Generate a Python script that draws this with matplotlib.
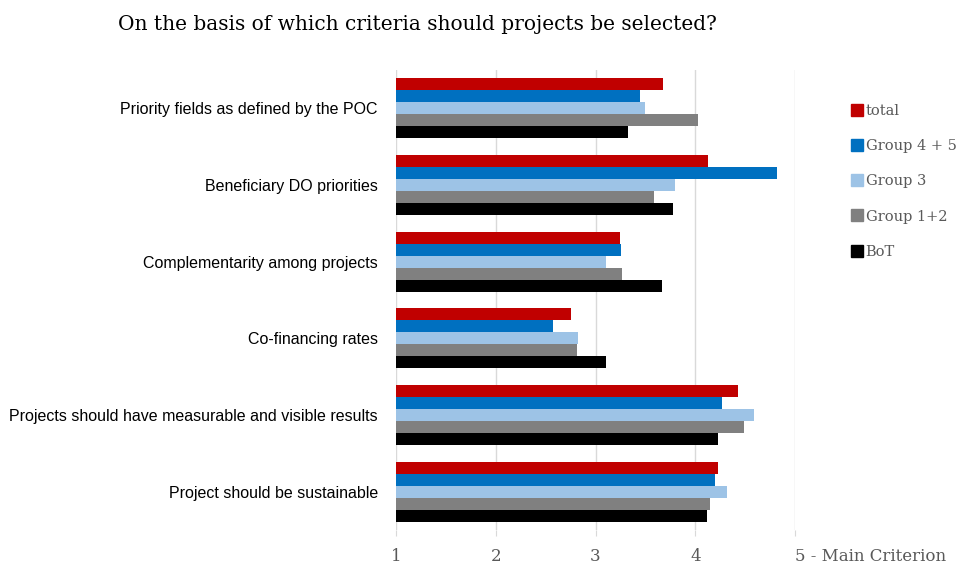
import numpy as np
import matplotlib.pyplot as plt
from matplotlib.lines import Line2D

criteria = ["Priority fields as defined by the POC",
            "Beneficiary DO priorities",
            "Complementarity among projects",
            "Co-financing rates",
            "Projects should have measurable and visible results",
            "Project should be sustainable"]

series_names = ["total", "Group 4 + 5", "Group 3", "Group 1+2", "BoT"]
total = [3.68, 4.13, 3.25, 2.75, 4.43, 4.23]
group45 = [3.45, 4.82, 3.26, 2.57, 4.27, 4.20]
group3 = [3.50, 3.80, 3.11, 2.82, 4.59, 4.32]
group12 = [4.03, 3.59, 3.27, 2.81, 4.49, 4.15]
bot = [3.33, 3.78, 3.67, 3.11, 4.23, 4.12]
colors = ["#C00000", "#0070C0", "#9DC3E6", "#808080", "#000000"]

xticks = [1, 2, 3, 4, 5]
xticklabels = ["1", "2", "3", "4", "5 - Main Criterion"]

serif = ["DejaVu Serif"]
sans = ["Liberation Sans"]
grey = "#595959"

fig = plt.figure(figsize=(9.68, 5.67), dpi=100)
ax = fig.add_axes([396/968, 1 - 530/567, (795 - 396)/968, 460/567])

y = np.arange(len(criteria))
h = 0.157
all_series = [total, group45, group3, group12, bot]
for i, (vals, c) in enumerate(zip(all_series, colors)):
    offs = (i - 2) * h
    ax.barh(y + offs, np.array(vals) - 1, left=1, height=h, color=c, zorder=3)

ax.set_xlim(1, 5)
ax.set_ylim(len(criteria) - 0.5, -0.5)
ax.set_xticks(xticks)
ax.set_xticklabels(xticklabels, family=serif, fontsize=12, color=grey)
ax.get_xticklabels()[-1].set_ha("left")
ax.tick_params(axis="x", length=4, color="#d9d9d9", pad=9)
ax.set_yticks(y)
ax.set_yticklabels(criteria, family=sans, fontsize=11.5, color="black")
ax.tick_params(axis="y", length=0, pad=13)
ax.grid(axis="x", color="#d9d9d9", linewidth=1, zorder=0)
for s in ax.spines.values():
    s.set_visible(False)

fig.text(118/968, 1 - 25/567, "On the basis of which criteria should projects be selected?",
         family=serif, fontsize=14.5, va="center", ha="left")

handles = [Line2D([], [], marker="s", linestyle="none", markersize=8,
                  markerfacecolor=c, markeredgecolor=c) for c in colors]
fig.legend(handles, series_names, loc="upper left", bbox_to_anchor=(838/968, 1 - 91/567),
           frameon=False, handlelength=0.8, handletextpad=0.2, labelspacing=1.45,
           prop={"family": serif, "size": 10.5}, labelcolor=grey)

fig.savefig("out.png", dpi=100)
